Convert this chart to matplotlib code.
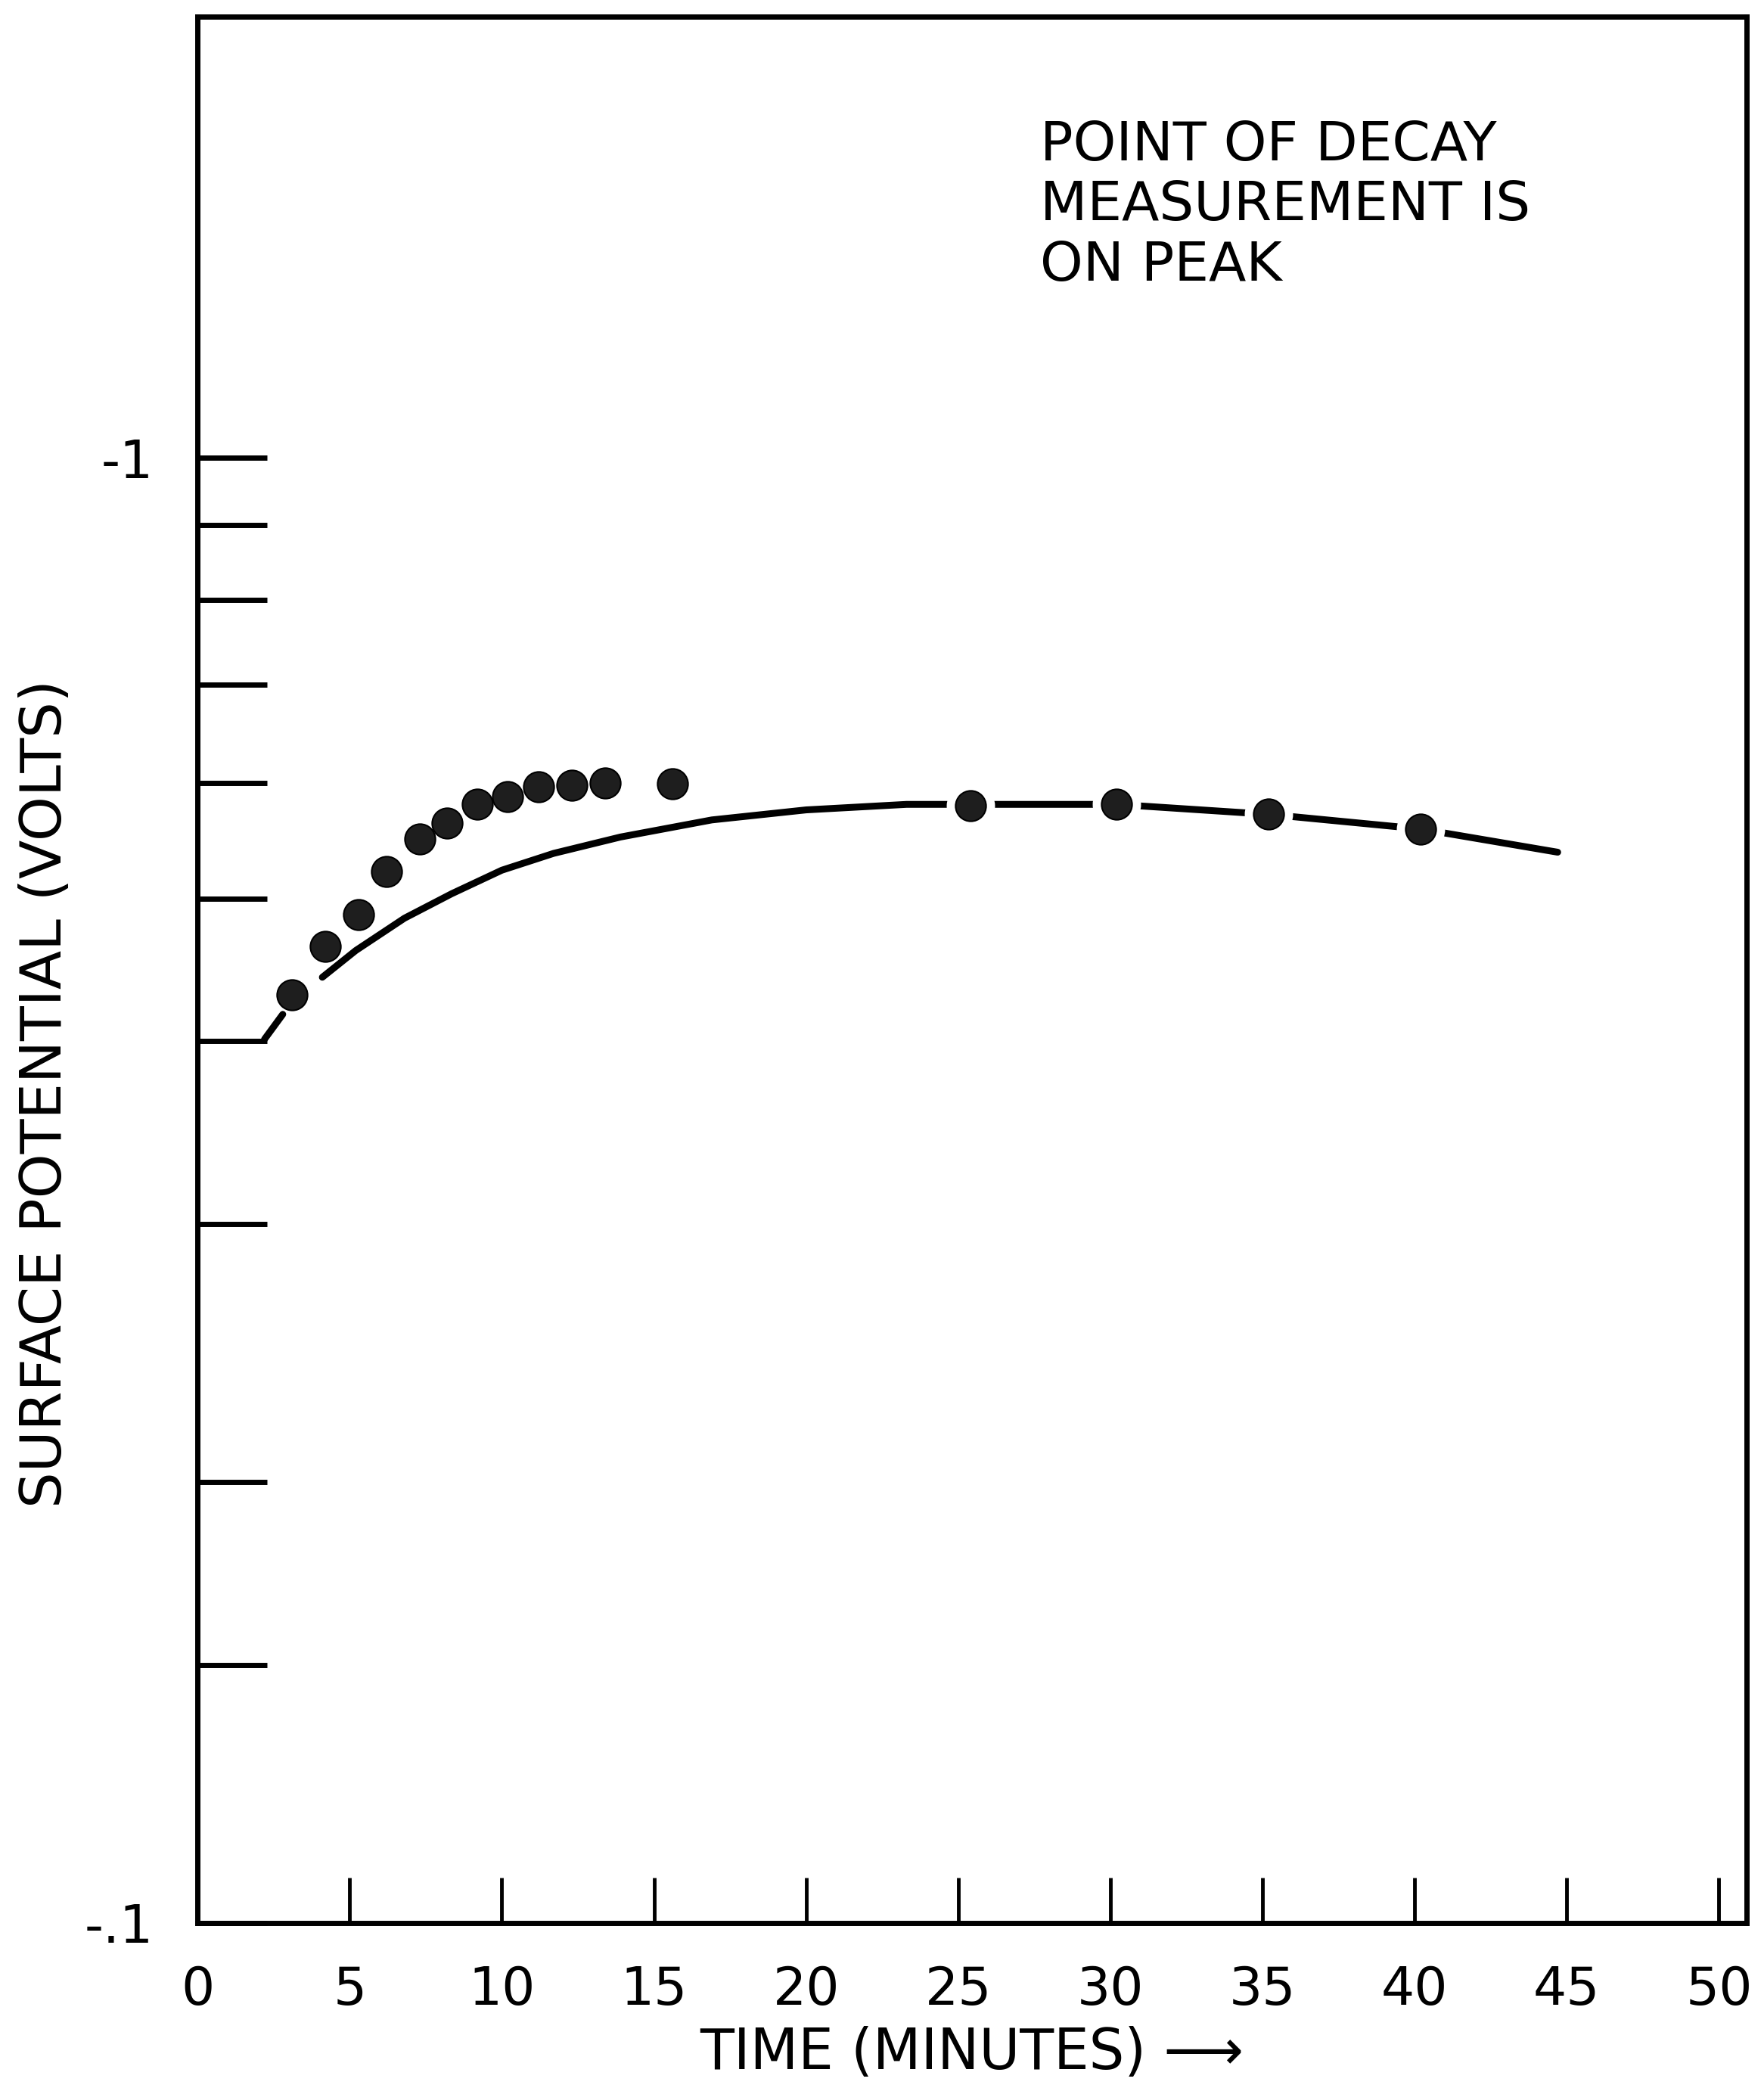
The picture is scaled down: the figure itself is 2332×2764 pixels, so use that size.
import numpy as np
import matplotlib.pyplot as plt

# Measured points (time in minutes, magnitude of negative surface potential in volts)
time_pts = [3.1, 4.2, 5.3, 6.2, 7.3, 8.2, 9.2, 10.2, 11.2, 12.3, 13.4, 15.6,
            25.4, 30.2, 35.2, 40.2]
potential_pts = [0.430, 0.464, 0.488, 0.522, 0.549, 0.563, 0.580, 0.587, 0.596,
                 0.598, 0.600, 0.599, 0.579, 0.580, 0.571, 0.558]

# Hand-drawn curve
curve_time = [2.2, 2.8, 4.1, 5.2, 6.8, 8.35, 10.0, 11.7, 13.9, 16.9, 20.0,
              23.3, 25.4, 30.2, 35.2, 40.2, 44.7]
curve_potential = [0.401, 0.417, 0.442, 0.461, 0.485, 0.504, 0.523, 0.537, 0.551,
                   0.566, 0.575, 0.580, 0.580, 0.580, 0.571, 0.558, 0.538]

x_ticks = [0, 5, 10, 15, 20, 25, 30, 35, 40, 45, 50]
x_tick_labels = ["0", "5", "10", "15", "20", "25", "30", "35", "40", "45", "50"]
y_ticks = [0.1, 0.15, 0.2, 0.3, 0.4, 0.5, 0.6, 0.7, 0.8, 0.9, 1.0]
y_tick_labels = ["-.1", "", "", "", "", "", "", "", "", "", "-1"]

plt.rcParams['font.family'] = ['DejaVu Sans']

fig = plt.figure(figsize=(23.32, 27.64), dpi=100)
ax = fig.add_axes([0.112, 0.0804, 0.878, 0.9116])

ax.set_yscale('log')
ax.set_xlim(0, 50.9)
ax.set_ylim(0.1, 2.0)

# curve: short leading dash, then the rest
ax.plot(curve_time[:2], curve_potential[:2], color='black', lw=6.5,
        solid_capstyle='round', zorder=2)
ax.plot(curve_time[2:], curve_potential[2:], color='black', lw=6.5,
        solid_capstyle='round', solid_joinstyle='round', zorder=2)

# white halo breaks the line around the points that sit on it
t = np.array(time_pts)
p = np.array(potential_pts)
on_line = t > 20
ax.plot(t[on_line], p[on_line], 'o', ms=46, color='white', mew=0, zorder=3)
ax.plot(t, p, 'o', ms=29, color='#1e1e1e', mec='black', mew=1.5, zorder=4)

ax.set_xticks(x_ticks)
ax.set_xticklabels(x_tick_labels)
ax.set_yticks(y_ticks)
ax.set_yticklabels(y_tick_labels)
ax.minorticks_off()
ax.yaxis.set_minor_locator(plt.NullLocator())

ax.tick_params(axis='x', direction='in', length=43, width=3.5, pad=40,
               labelsize=50, top=False)
ax.tick_params(axis='y', direction='in', length=66, width=5, pad=42,
               labelsize=50, right=False)

for side in ['left', 'right', 'top', 'bottom']:
    ax.spines[side].set_linewidth(5)

ax.set_xlabel("TIME (MINUTES) \u27f6", fontsize=53, labelpad=10)
fig.text(0.026, 0.477, "SURFACE POTENTIAL (VOLTS)", rotation=90,
         fontsize=54, ha='center', va='center')

fig.text(0.5896, 0.943, "POINT OF DECAY\nMEASUREMENT IS\nON PEAK",
         fontsize=52, ha='left', va='top', linespacing=1.2)

plt.savefig("out.png", dpi=100)
